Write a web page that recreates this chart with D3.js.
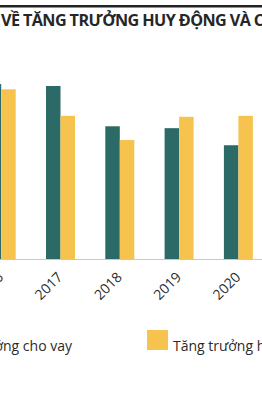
<!DOCTYPE html>
<html>
<head>
<meta charset="utf-8">
<script src="https://cdn.jsdelivr.net/npm/d3@7"></script>
<style>
  html, body { margin: 0; padding: 0; background: #fff; overflow: hidden; }
  svg { display: block; }
</style>
</head>
<body>
<svg id="chart"></svg>
<script>
// data (growth, %)
const years = ["2016", "2017", "2018", "2019", "2020"];
const creditGrowth = [18.45, 18.25, 14.0, 13.8, 12.0];   // Tăng trưởng cho vay
const depositGrowth = [17.9, 15.1, 12.55, 15.0, 15.1];   // Tăng trưởng huy động
const seriesNames = ["Tăng trưởng cho vay", "Tăng trưởng huy động"];
const titleText = "VỀ TĂNG TRƯỞNG HUY ĐỘNG VÀ CHO VAY";

const width = 262, height = 400;
const colors = ["#2b6a66", "#f6c44e"];

const svg = d3.select("#chart")
    .attr("width", width)
    .attr("height", height);

// top rule + title (cropped on both sides in the original)
svg.append("rect")
    .attr("x", 0).attr("y", 5)
    .attr("width", width).attr("height", 2.5)
    .attr("fill", "#222");

svg.append("text")
    .attr("x", 1)
    .attr("y", 26)
    .attr("font-family", "'Open Sans', sans-serif")
    .attr("font-weight", 700)
    .attr("font-size", 16.2)
    .attr("letter-spacing", -0.6)
    .attr("fill", "#262626")
    .text(titleText);

// scales: group step ~59.3px, each group two 14.5px bars
const step = 59.3, groupW = 29, start = -13.3;
const x0 = d3.scaleBand()
    .domain(years)
    .range([start, start + step * (years.length - 1) + groupW])
    .paddingInner(1 - groupW / step)
    .paddingOuter(0);

const x1 = d3.scaleBand()
    .domain([0, 1])
    .range([0, x0.bandwidth()]);

const y = d3.scaleLinear()
    .domain([0, 20])
    .range([259, 69.4]);

const rows = years.map((yr, i) => ({ year: yr, values: [creditGrowth[i], depositGrowth[i]] }));

// bars
svg.append("g")
    .selectAll("g")
    .data(rows)
    .join("g")
    .attr("transform", d => `translate(${x0(d.year)},0)`)
    .selectAll("rect")
    .data(d => d.values.map((v, k) => ({ k, v })))
    .join("rect")
    .attr("x", d => x1(d.k))
    .attr("width", x1.bandwidth())
    .attr("y", d => y(d.v))
    .attr("height", d => y(0) - y(d.v))
    .attr("fill", d => colors[d.k]);

// baseline
svg.append("line")
    .attr("x1", 0).attr("x2", width)
    .attr("y1", y(0) + 0.5).attr("y2", y(0) + 0.5)
    .attr("stroke", "#c8c8c8")
    .attr("stroke-width", 1);

// rotated year labels
svg.append("g")
    .selectAll("text")
    .data(years)
    .join("text")
    .attr("transform", d => `translate(${x0(d) + x0.bandwidth() / 2 + 3},${y(0) + 19}) rotate(-45)`)
    .attr("text-anchor", "end")
    .attr("font-family", "'Open Sans', sans-serif")
    .attr("font-size", 14)
    .attr("fill", "#2b2b2b")
    .text(d => d);

// legend
const legend = svg.append("g")
    .attr("font-family", "'Open Sans', sans-serif")
    .attr("font-size", 14)
    .attr("fill", "#2b2b2b");

// second item fixed, first item ends at x = 72
const item2 = legend.append("g").attr("transform", "translate(147,330)");
item2.append("rect").attr("width", 21).attr("height", 20).attr("fill", colors[1]);
item2.append("text").attr("x", 26).attr("y", 21).text(seriesNames[1]);

const item1 = legend.append("g").attr("transform", "translate(0,330)");
const t1 = item1.append("text").attr("x", 72).attr("y", 21)
    .attr("text-anchor", "end").text(seriesNames[0]);
const len1 = t1.node().getComputedTextLength();
item1.append("rect")
    .attr("x", 72 - len1 - 26)
    .attr("width", 21).attr("height", 20)
    .attr("fill", colors[0]);
</script>
</body>
</html>
